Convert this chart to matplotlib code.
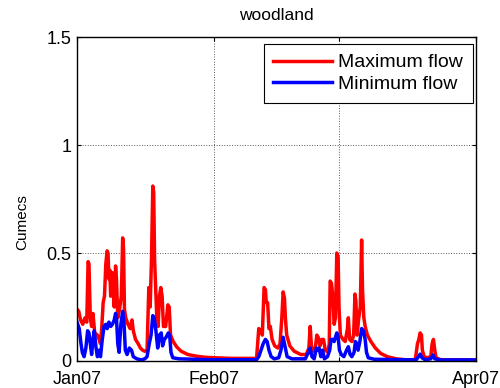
import numpy as np
import matplotlib
matplotlib.use("Agg")
import matplotlib.pyplot as plt
import matplotlib.dates as mdates
from datetime import datetime, timedelta

plt.rcParams['font.family'] = ['Liberation Sans', 'DejaVu Sans']

start = datetime(2007, 1, 1)

# Maximum flow: (days since 1 Jan 2007, cumecs)
max_days = [0.0, 0.4, 0.8, 1.3, 1.8, 2.2, 2.5, 2.7, 3.0, 3.3, 3.6, 4.0, 4.6, 5.0, 5.3,
            5.6, 5.9, 6.2, 6.5, 6.8, 7.0, 7.2, 7.4, 7.6, 7.9, 8.1, 8.4, 8.7, 8.9, 9.2,
            9.6, 10.0, 10.3, 10.5, 10.7, 11.0, 11.5, 12.0, 12.4, 12.7, 13.2, 13.8, 14.3,
            14.8, 15.3, 15.8, 16.0, 16.2, 16.5, 16.8, 17.1, 17.3, 17.5, 17.8, 18.0, 18.3,
            18.6, 18.9, 19.2, 19.5, 20.0, 20.5, 20.8, 21.1, 21.7, 22.5, 23.5, 25.0, 27.0,
            29.0, 31.0, 35.0, 40.5, 41.0, 41.4, 41.8, 42.2, 42.5, 42.7, 43.0, 43.3, 43.6,
            44.0, 44.6, 45.3, 45.8, 46.2, 46.5, 46.8, 47.0, 47.3, 48.0, 49.0, 50.5, 51.7,
            52.3, 52.6, 52.9, 53.4, 53.8, 54.1, 54.4, 54.8, 55.2, 55.6, 56.0, 56.6, 56.9,
            57.1, 57.4, 57.7, 58.0, 58.3, 58.6, 58.9, 59.1, 59.4, 60.0, 60.5, 61.0, 61.2,
            61.5, 62.0, 62.4, 62.7, 62.9, 63.2, 63.5, 63.9, 64.2, 64.4, 64.7, 65.0, 65.5,
            66.3, 67.3, 68.5, 70.0, 72.0, 74.0, 76.3, 76.6, 76.8, 77.1, 77.4, 77.7, 77.9,
            78.3, 79.0, 79.8, 80.1, 80.4, 80.7, 81.0, 82.0, 90.0]
max_flow = [0.24, 0.23, 0.19, 0.17, 0.20, 0.18, 0.46, 0.45, 0.20, 0.16, 0.22, 0.13, 0.12, 0.10, 0.08,
            0.16, 0.27, 0.30, 0.45, 0.51, 0.50, 0.38, 0.42, 0.30, 0.41, 0.36, 0.25, 0.44, 0.38, 0.20,
            0.24, 0.30, 0.57, 0.52, 0.24, 0.20, 0.17, 0.15, 0.19, 0.14, 0.10, 0.08, 0.06,
            0.05, 0.045, 0.05, 0.20, 0.34, 0.25, 0.47, 0.81, 0.78, 0.47, 0.30, 0.20, 0.16,
            0.30, 0.34, 0.30, 0.16, 0.16, 0.26, 0.25, 0.12, 0.09, 0.065, 0.045, 0.03, 0.022,
            0.017, 0.015, 0.012, 0.012, 0.15, 0.14, 0.12, 0.34, 0.33, 0.27, 0.27, 0.15, 0.16,
            0.10, 0.07, 0.06, 0.08, 0.20, 0.32, 0.29, 0.20, 0.12, 0.07, 0.045, 0.03, 0.03,
            0.06, 0.16, 0.06, 0.045, 0.07, 0.12, 0.11, 0.07, 0.10, 0.10, 0.05, 0.04, 0.08,
            0.37, 0.36, 0.30, 0.17, 0.20, 0.50, 0.48, 0.25, 0.12, 0.10, 0.09, 0.15, 0.20,
            0.10, 0.09, 0.12, 0.31, 0.28, 0.12, 0.19, 0.25, 0.56, 0.33, 0.20, 0.16, 0.12,
            0.09, 0.06, 0.035, 0.02, 0.01, 0.006, 0.006, 0.05, 0.08, 0.10, 0.13, 0.12, 0.05,
            0.02, 0.015, 0.02, 0.08, 0.10, 0.05, 0.015, 0.006, 0.005]

# Minimum flow: (days since 1 Jan 2007, cumecs)
min_days = [0.0, 0.5, 0.9, 1.2, 1.6, 2.0, 2.4, 2.7, 3.0, 3.3, 3.6, 3.9, 4.3, 4.6, 5.0,
            5.3, 5.7, 6.1, 6.5, 6.8, 7.2, 7.6, 8.0, 8.4, 8.7, 8.9, 9.2, 9.5, 9.9, 10.3,
            10.6, 10.9, 11.3, 11.8, 12.3, 12.7, 13.5, 14.5, 15.3, 15.8, 16.3, 16.7, 17.1,
            17.4, 17.8, 18.2, 18.6, 19.0, 19.3, 19.7, 20.1, 20.6, 20.9, 21.2, 21.6, 23.0,
            30.0, 40.5, 41.0, 41.5, 42.0, 42.5, 42.9, 43.3, 43.8, 44.5, 45.5, 46.0, 46.5,
            46.9, 47.4, 48.5, 51.5, 52.2, 52.6, 53.0, 53.5, 54.0, 54.3, 54.6, 55.0, 55.4,
            55.8, 56.5, 57.0, 57.3, 57.7, 58.0, 58.3, 58.6, 58.9, 59.2, 59.6, 60.2, 60.8,
            61.2, 61.6, 62.0, 62.5, 62.8, 63.1, 63.4, 63.8, 64.2, 64.6, 65.0, 65.3, 65.7,
            67.0, 76.5, 77.0, 77.4, 77.8, 78.5, 79.8, 80.3, 80.7, 82.0, 90.0]
min_flow = [0.18, 0.15, 0.08, 0.04, 0.02, 0.06, 0.14, 0.13, 0.08, 0.03, 0.10, 0.14, 0.06, 0.02, 0.05,
            0.02, 0.10, 0.16, 0.17, 0.15, 0.18, 0.16, 0.17, 0.19, 0.22, 0.20, 0.08, 0.04, 0.17, 0.23,
            0.18, 0.05, 0.03, 0.06, 0.05, 0.02, 0.01, 0.005, 0.01, 0.02, 0.08, 0.12, 0.21,
            0.20, 0.14, 0.06, 0.12, 0.13, 0.07, 0.10, 0.11, 0.13, 0.12, 0.04, 0.015, 0.01,
            0.006, 0.006, 0.02, 0.05, 0.08, 0.10, 0.09, 0.05, 0.02, 0.01, 0.015, 0.05, 0.11,
            0.07, 0.02, 0.01, 0.01, 0.04, 0.06, 0.02, 0.01, 0.06, 0.05, 0.06, 0.02, 0.05,
            0.01, 0.02, 0.05, 0.10, 0.10, 0.09, 0.11, 0.13, 0.11, 0.05, 0.03, 0.02, 0.05,
            0.066, 0.03, 0.02, 0.04, 0.09, 0.08, 0.05, 0.09, 0.15, 0.14, 0.10, 0.04, 0.015,
            0.008, 0.005, 0.02, 0.032, 0.015, 0.006, 0.01, 0.028, 0.01, 0.005, 0.005]

month_ticks = [datetime(2007, 1, 1), datetime(2007, 2, 1), datetime(2007, 3, 1), datetime(2007, 4, 1)]
y_ticks = [0, 0.5, 1, 1.5]
y_labels = ["0", "0.5", "1", "1.5"]

max_t = [start + timedelta(days=d) for d in max_days]
min_t = [start + timedelta(days=d) for d in min_days]

fig = plt.figure(figsize=(5.0, 3.88), dpi=100)
ax = fig.add_axes([0.154, 0.0696, 0.798, 0.835])

ax.plot(max_t, max_flow, color='red', lw=2.5, label='Maximum flow', solid_joinstyle='round')
ax.plot(min_t, min_flow, color='blue', lw=2.5, label='Minimum flow', solid_joinstyle='round')

ax.set_xlim(month_ticks[0], month_ticks[-1])
ax.set_ylim(0, 1.5)
ax.set_xticks(month_ticks)
ax.xaxis.set_major_formatter(mdates.DateFormatter('%b%y'))
ax.set_yticks(y_ticks)
ax.set_yticklabels(y_labels)

ax.grid(True, linestyle=':', color='0.35', lw=0.7)
ax.tick_params(direction='in', top=True, right=True, length=3, width=0.8,
               labelsize=13, colors='black')
ax.tick_params(axis='y', pad=4)
ax.tick_params(axis='x', pad=7)
for sp in ax.spines.values():
    sp.set_linewidth(1.0)
    sp.set_color('black')

ax.set_title('woodland', fontsize=12.5, pad=12)
ax.set_ylabel('Cumecs', fontsize=11, labelpad=10)
ax.yaxis.set_label_coords(-0.12, 0.43)

leg = ax.legend(loc='upper right', bbox_to_anchor=(0.9925, 0.978), borderaxespad=0,
                fontsize=14, frameon=True, fancybox=False,
                handlelength=3.0, handletextpad=0.35,
                borderpad=0.5, labelspacing=0.2)
leg.get_frame().set_edgecolor('black')
leg.get_frame().set_linewidth(0.8)
leg.get_frame().set_alpha(1)

fig.savefig('out.png', dpi=100)
